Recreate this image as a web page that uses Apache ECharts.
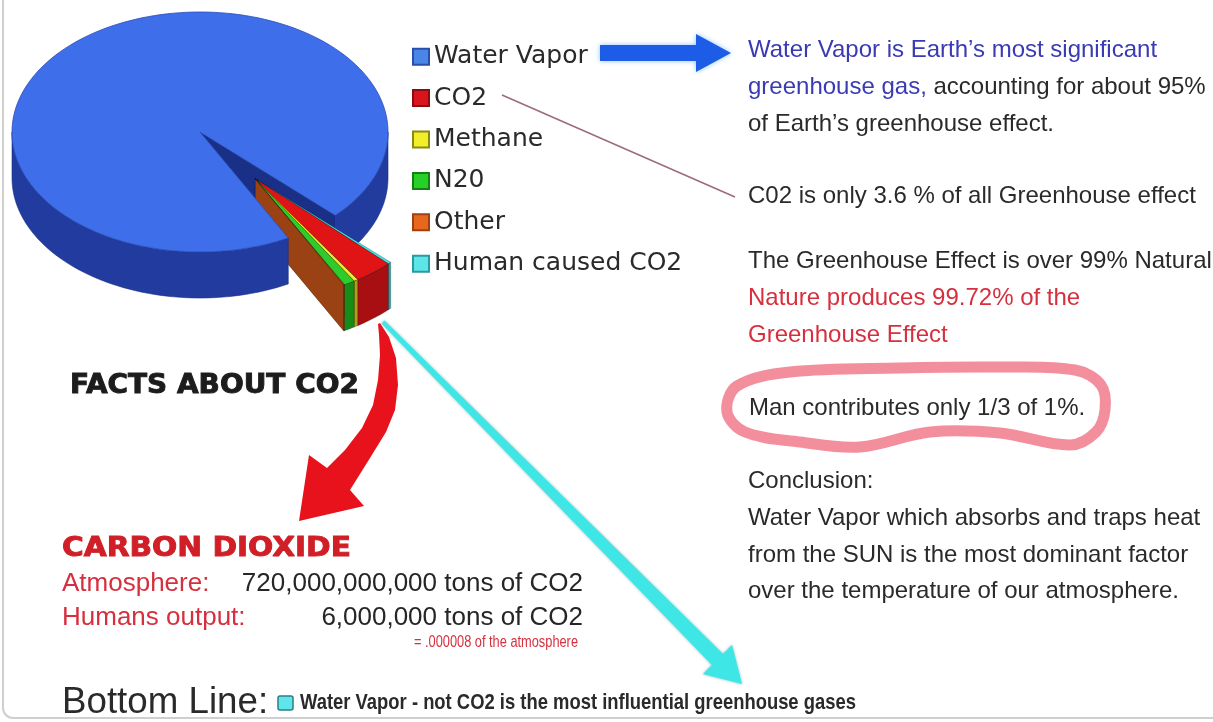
<!DOCTYPE html>
<html><head><meta charset="utf-8">
<script src="https://cdn.jsdelivr.net/npm/echarts@6/dist/echarts.min.js"></script>
<style>html,body{margin:0;padding:0;background:#fff;}#main{width:1213px;height:722px;}</style>
</head><body><div id="main"></div>
<script>
// ---- data ----
const categories = ['Water Vapor', 'CO2', 'Methane', 'N20', 'Other', 'Human caused CO2'];
const shares = [95.0, 3.34, 0.36, 0.95, 0.07, 0.28];
const legendColors = ['#4a86e8', '#d9141c', '#f2ef2a', '#27d027', '#e8671e', '#5de6ea'];
const legendBorders = ['#2a4fa8', '#8a0c10', '#8a8a10', '#138013', '#a04010', '#2a9aa0'];
const topColors = ['#3e6eea', '#e01414', '#eded26', '#2dcc2d', '#c95c1c', '#3fe2e6'];
const sideColors = ['#213b9e', '#a80f12', '#a8a41a', '#178c17', '#9a4214', '#1ea5aa'];
const angularOrder = [5, 1, 2, 3, 4, 0];

// ---- geometry of the 3D pie ----
const CX = 200, CY = 132, RX = 188, RY = 120, DEPTH = 46, START = 44, EXPLODE = 0.49;
const total = shares.reduce((a, b) => a + b, 0);
function startAngleOf(idx) {
  let acc = START;
  for (const j of angularOrder) { if (j === idx) return acc; acc += shares[j] / total * 360; }
  return acc;
}
const smallSweep = (total - shares[0]) / total * 360;
const groupMid = START + smallSweep / 2;
const rad = d => d * Math.PI / 180;
function pt(ox, oy, deg, dz) { return [ox + RX * Math.cos(rad(deg)), oy + RY * Math.sin(rad(deg)) + dz]; }
function arcPts(ox, oy, a0, a1, dz) {
  const n = Math.max(2, Math.ceil(Math.abs(a1 - a0) / 2)); const out = [];
  for (let k = 0; k <= n; k++) out.push(pt(ox, oy, a0 + (a1 - a0) * k / n, dz));
  return out;
}
function frontSegments(a0, a1) {
  const segs = [];
  for (let base = -360; base <= 720; base += 360) {
    const s = Math.max(a0, base), e = Math.min(a1, base + 180);
    if (e > s) segs.push([s, e]);
  }
  return segs;
}
function outerWall(ox, oy, s, e, fill, stroke) {
  return { type: 'polygon', shape: { points: arcPts(ox, oy, s, e, 0).concat(arcPts(ox, oy, e, s, DEPTH)) },
    style: { fill: fill, stroke: stroke, lineWidth: 0.6 } };
}
function radialWall(ox, oy, a, fill, stroke) {
  const r = pt(ox, oy, a, 0);
  return { type: 'polygon', shape: { points: [[ox, oy], r, [r[0], r[1] + DEPTH], [ox, oy + DEPTH]] },
    style: { fill: fill, stroke: stroke, lineWidth: 0.6 } };
}
function topFace(ox, oy, a0, a1, fill, stroke) {
  return { type: 'polygon', shape: { points: [[ox, oy]].concat(arcPts(ox, oy, a0, a1, 0)) },
    style: { fill: fill, stroke: stroke, lineWidth: 0.8 } };
}

function sliceRenderer(idx) {
  return function (params, api) {
    const a0 = startAngleOf(idx);
    const a1 = a0 + api.value(0) / total * 360;
    const ox = CX + EXPLODE * RX * Math.cos(rad(groupMid));
    const oy = CY + EXPLODE * RY * Math.sin(rad(groupMid));
    const ch = [];
    const side = sideColors[idx], top = topColors[idx];
    if (Math.cos(rad(a0)) < 0) ch.push(radialWall(ox, oy, a0, side, 'rgba(0,0,0,0.35)'));
    if (Math.cos(rad(a1)) > 0) ch.push(radialWall(ox, oy, a1, side, 'rgba(0,0,0,0.35)'));
    frontSegments(a0, a1).forEach(s => ch.push(outerWall(ox, oy, s[0], s[1], side, 'rgba(0,0,0,0.4)')));
    ch.push(topFace(ox, oy, a0, a1, top, 'rgba(0,0,0,0.3)'));
    return { type: 'group', children: ch };
  };
}
function waterBack(params, api) {
  const a0 = startAngleOf(0), a1 = a0 + api.value(0) / total * 360;
  const ch = [radialWall(CX, CY, a1, '#1a2f86', '#142670')];
  frontSegments(a0, a1).filter(s => Math.abs(s[1] - a1) < 1e-6)
    .forEach(s => ch.push(outerWall(CX, CY, s[0], s[1], sideColors[0], '#1a2f86')));
  return { type: 'group', children: ch };
}
function waterFront(params, api) {
  const a0 = startAngleOf(0), a1 = a0 + api.value(0) / total * 360;
  const ch = [];
  frontSegments(a0, a1).filter(s => Math.abs(s[1] - a1) > 1e-6)
    .forEach(s => ch.push(outerWall(CX, CY, s[0], s[1], sideColors[0], '#1a2f86')));
  ch.push(topFace(CX, CY, a0, a1, topColors[0], '#2a4cb8'));
  return { type: 'group', children: ch };
}

const series = [];
series.push({ type: 'custom', name: 'Water Vapor (back)', coordinateSystem: 'none', z: 1, silent: true,
  data: [[shares[0]]], renderItem: waterBack });
angularOrder.filter(i => i !== 0).forEach(i => {
  series.push({ type: 'custom', name: categories[i], coordinateSystem: 'none', z: 2, silent: true,
    itemStyle: { color: legendColors[i], borderColor: legendBorders[i], borderWidth: 1.5 },
    data: [[shares[i]]], renderItem: sliceRenderer(i) });
});
series.push({ type: 'custom', name: categories[0], coordinateSystem: 'none', z: 3, silent: true,
  itemStyle: { color: legendColors[0], borderColor: legendBorders[0], borderWidth: 1.5 },
  data: [[shares[0]]], renderItem: waterFront });

// ---- annotation text ----
const LS = '"Liberation Sans", Arial, sans-serif';
const RF = '24px ' + LS;
const dark = '#2a2a2a', blueT = '#3a3ab4', redT = '#d6303e';
function T(text, x, y, font, fill, align, sx, extra) {
  const st = { text: text, font: font, fill: fill, textAlign: align || 'left', textVerticalAlign: 'middle' };
  if (extra) Object.assign(st, extra);
  return { type: 'text', x: x, y: y, z: 10, silent: true, scaleX: sx || 1, style: st };
}
const heavy = 'bold 26px "DejaVu Sans", sans-serif';
const graphics = [
  { type: 'rect', z: 0, silent: true, shape: { x: 3, y: -20, width: 1250, height: 738, r: 10 },
    style: { fill: 'none', stroke: '#cfcfcf', lineWidth: 2 } },
  // blue arrow
  { type: 'polygon', z: 5, silent: true, shape: { points: [[600, 45], [696, 45], [696, 34], [731, 53], [696, 72], [696, 61], [600, 61]] },
    style: { fill: '#1d5ce6', shadowBlur: 5, shadowColor: 'rgba(90,170,255,0.7)' } },
  // CO2 leader line
  { type: 'polyline', z: 5, silent: true, shape: { points: [[502, 95], [735, 197]] },
    style: { stroke: '#9b6b78', lineWidth: 1.5 } },
  // red curved arrow
  { type: 'polygon', z: 5, silent: true, shape: { points: [
      [380, 323], [389, 337], [396, 358], [398, 385], [395, 410], [386, 432], [370, 458], [350, 490],
      [364, 506], [299, 521], [309, 455],
      [327, 468], [345, 450], [362, 428], [373, 405], [378, 380], [380, 355], [379, 335], [378, 324]] },
    style: { fill: '#e8121c' } },
  // cyan arrow
  { type: 'polygon', z: 5, silent: true, shape: { points: [
      [384.4, 320.6], [723, 654], [732, 645], [742, 684], [703, 674], [712, 665], [381.6, 323.4]] },
    style: { fill: '#3fe6e6', shadowBlur: 3, shadowColor: 'rgba(0,120,120,0.5)' } },
  // pink scribble
  { type: 'polygon', z: 4, silent: true, shape: { smooth: 0.35, points: [
      [727, 412], [737, 386], [790, 372], [900, 368], [1000, 367], [1075, 370], [1101, 385], [1105, 410],
      [1096, 432], [1070, 445], [1000, 433], [930, 432], [860, 447], [800, 442], [745, 432]] },
    style: { fill: 'none', stroke: 'rgba(238,96,116,0.7)', lineWidth: 11 } },
  // right column
  T('Water Vapor is Earth\u2019s most significant', 748, 50, RF, blueT),
  { type: 'text', x: 748, y: 87, z: 10, silent: true,
    style: { text: '{b|greenhouse gas,} accounting for about 95%', font: RF, fill: dark, textVerticalAlign: 'middle',
      rich: { b: { fill: blueT, font: RF } } } },
  T('of Earth\u2019s greenhouse effect.', 748, 124, RF, dark),
  T('C02 is only 3.6 % of all Greenhouse effect', 748, 196, RF, dark),
  T('The Greenhouse Effect is over 99% Natural', 748, 261, RF, dark),
  T('Nature produces 99.72% of the', 748, 298, RF, redT),
  T('Greenhouse Effect', 748, 335, RF, redT),
  T('Man contributes only 1/3 of 1%.', 749, 408, RF, dark),
  T('Conclusion:', 748, 481, RF, dark),
  T('Water Vapor which absorbs and traps heat', 748, 518, RF, dark),
  T('from the SUN is the most dominant factor', 748, 555, RF, dark),
  T('over the temperature of our atmosphere.', 748, 591, RF, dark),
  // left block
  T('FACTS ABOUT CO2', 70, 386, heavy, '#1c1c1c', 'left', 1.075, { stroke: '#1c1c1c', lineWidth: 0.9 }),
  T('CARBON DIOXIDE', 62, 549, heavy, '#d01f27', 'left', 1.14, { stroke: '#d01f27', lineWidth: 0.9 }),
  T('Atmosphere:', 62, 584, '26px ' + LS, redT),
  T('720,000,000,000 tons of CO2', 583, 584, '26px ' + LS, '#262626', 'right'),
  T('Humans output:', 62, 618, '26px ' + LS, redT),
  T('6,000,000 tons of CO2', 583, 618, '26px ' + LS, '#262626', 'right'),
  T('= .000008 of the atmosphere', 578, 643, '16px ' + LS, redT, 'right', 0.8),
  T('Bottom Line:', 62, 703, '36px ' + LS, dark, 'left', 1.02),
  { type: 'rect', z: 10, silent: true, shape: { x: 278, y: 696, width: 15, height: 14, r: 2 },
    style: { fill: '#5fe6ea', stroke: '#2b7f86', lineWidth: 1.5 } },
  T('Water Vapor - not CO2 is the most influential greenhouse gases', 300, 703, 'bold 22px ' + LS, dark, 'left', 0.837)
];

const chart = echarts.init(document.getElementById('main'));
chart.setOption({
  backgroundColor: '#ffffff',
  animation: false,
  legend: {
    orient: 'vertical', left: 407, top: 31, icon: 'rect', itemWidth: 16, itemHeight: 16,
    itemGap: 0, itemTextGap: 9, selectedMode: false, data: categories,
    textStyle: { fontFamily: '"DejaVu Sans", sans-serif', fontSize: 25, color: '#2a2a2a', lineHeight: 41.4 }
  },
  series: series,
  graphic: graphics
});
</script>
</body></html>
